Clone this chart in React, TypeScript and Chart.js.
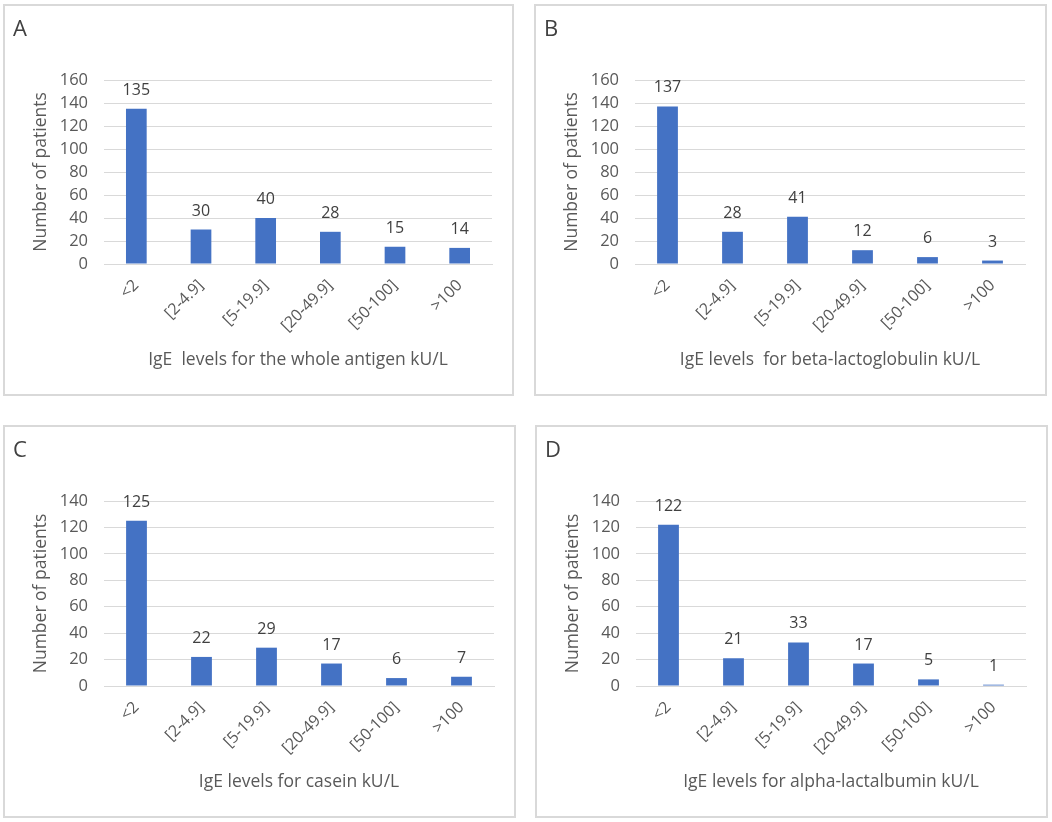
import React, { useEffect, useRef } from "react";
import { Chart, registerables } from "chart.js";

Chart.register(...registerables);

const categories = ["<2", "[2-4.9]", "[5-19.9]", "[20-49.9]", "[50-100]", ">100"];
const wholeAntigen = [135, 30, 40, 28, 15, 14];
const betaLactoglobulin = [137, 28, 41, 12, 6, 3];
const casein = [125, 22, 29, 17, 6, 7];
const alphaLactalbumin = [122, 21, 33, 17, 5, 1];
const yMaxes = [160, 160, 140, 140];
const panelLetters = ["A", "B", "C", "D"];
const xTitles = [
  "IgE  levels for the whole antigen kU/L",
  "IgE levels  for beta-lactoglobulin kU/L",
  "IgE levels for casein kU/L",
  "IgE levels for alpha-lactalbumin kU/L",
];
const yTitle = "Number of patients";

const FONT = "'Open Sans', sans-serif";
const BAR = "#4472C4";
const TEXT = "#595959";
const DARK = "#404040";
const GRID = "#d9d9d9";

const valueLabels = {
  id: "valueLabels",
  afterDatasetsDraw(chart: any) {
    const ctx = chart.ctx;
    const meta = chart.getDatasetMeta(0);
    const data = chart.data.datasets[0].data;
    ctx.save();
    ctx.font = `16px ${FONT}`;
    ctx.fillStyle = DARK;
    ctx.textAlign = "center";
    ctx.textBaseline = "alphabetic";
    meta.data.forEach((bar: any, i: number) => {
      ctx.fillText(String(data[i]), bar.x, bar.y - 14);
    });
    ctx.restore();
  },
};

const panelLetter = {
  id: "panelLetter",
  afterDraw(chart: any, _args: any, opts: any) {
    const ctx = chart.ctx;
    ctx.save();
    ctx.font = `22px ${FONT}`;
    ctx.fillStyle = DARK;
    ctx.textAlign = "left";
    ctx.textBaseline = "alphabetic";
    ctx.fillText(opts.text, 8, 30);
    ctx.restore();
  },
};

type PanelProps = {
  left: number;
  top: number;
  width: number;
  height: number;
  values: number[];
  yMax: number;
  letter: string;
  xTitle: string;
};

function Panel({ left, top, width, height, values, yMax, letter, xTitle }: PanelProps) {
  const ref = useRef<HTMLCanvasElement | null>(null);
  const cw = width - 4;
  const ch = height - 4;

  useEffect(() => {
    if (!ref.current) return;
    const chart = new Chart(ref.current, {
      type: "bar",
      data: {
        labels: categories,
        datasets: [
          {
            data: values,
            backgroundColor: BAR,
            borderWidth: 0,
            categoryPercentage: 1,
            barPercentage: 0.32,
          },
        ],
      },
      options: {
        responsive: false,
        animation: false,
        layout: { padding: { left: 26, top: 74, right: 20, bottom: 0 } },
        plugins: {
          legend: { display: false },
          tooltip: { enabled: false },
          title: { display: false },
          panelLetter: { text: letter },
        } as any,
        scales: {
          x: {
            grid: { display: false, drawTicks: false },
            border: { display: true, color: GRID, width: 1 },
            ticks: {
              color: TEXT,
              font: { family: FONT, size: 16 },
              minRotation: 45,
              maxRotation: 45,
              padding: 12,
              autoSkip: false,
            },
            title: {
              display: true,
              text: xTitle,
              color: TEXT,
              font: { family: FONT, size: 17.5 },
              padding: { top: 0, bottom: 23 },
            },
            afterFit(scale: any) {
              scale.height = 130;
            },
          },
          y: {
            min: 0,
            max: yMax,
            grid: { color: GRID, lineWidth: 1, drawTicks: false },
            border: { display: false },
            ticks: {
              stepSize: 20,
              color: TEXT,
              font: { family: FONT, size: 16.5 },
              padding: 16,
            },
            title: {
              display: true,
              text: yTitle,
              color: TEXT,
              font: { family: FONT, size: 17.5 },
              padding: 0,
            },
            afterFit(scale: any) {
              scale.width = 73;
            },
          },
        },
      },
      plugins: [valueLabels, panelLetter],
    });
    return () => chart.destroy();
  }, []);

  return (
    <div
      style={{
        position: "absolute",
        left,
        top,
        width,
        height,
        boxSizing: "border-box",
        border: `2px solid ${GRID}`,
        background: "#fff",
      }}
    >
      <canvas ref={ref} width={cw} height={ch} style={{ display: "block", width: cw, height: ch }} />
    </div>
  );
}

const panelBoxes = [
  { left: 3, top: 4, width: 511, height: 392 },
  { left: 534, top: 4, width: 513, height: 392 },
  { left: 3, top: 425, width: 513, height: 393 },
  { left: 535, top: 425, width: 513, height: 393 },
];
const seriesList = [wholeAntigen, betaLactoglobulin, casein, alphaLactalbumin];

export default function App() {
  return (
    <div style={{ position: "absolute", left: 0, top: 0, width: 1052, height: 822, background: "#fff" }}>
      {panelBoxes.map((b, i) => (
        <Panel
          key={i}
          {...b}
          values={seriesList[i]}
          yMax={yMaxes[i]}
          letter={panelLetters[i]}
          xTitle={xTitles[i]}
        />
      ))}
    </div>
  );
}
